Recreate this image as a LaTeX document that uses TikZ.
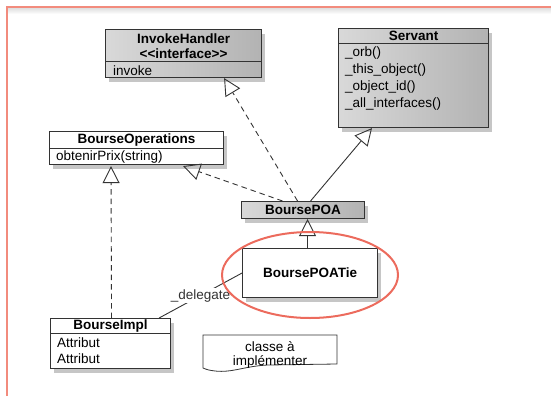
\documentclass[tikz,border=0pt]{standalone}
\usepackage{fontspec}
\setmainfont{Liberation Sans}
\usetikzlibrary{arrows.meta, positioning, calc, shadows}
\definecolor{framered}{HTML}{F28B7D}
\definecolor{ringred}{HTML}{EC6B5D}
\definecolor{linegray}{HTML}{333333}

\begin{document}
\begin{tikzpicture}[x=1pt, y=-1pt,
    classbox/.style={draw=linegray, line width=1.1pt, anchor=north west, inner sep=0pt,
      drop shadow={shadow xshift=3pt, shadow yshift=-4pt, opacity=0.45}},
    graybox/.style={classbox, left color=gray!30, middle color=gray!10, right color=gray!60},
    whitebox/.style={classbox, fill=white},
    ctitle/.style={font=\fontsize{13.5}{15}\selectfont\bfseries, inner sep=0pt},
    cmember/.style={font=\fontsize{13.5}{15}\selectfont, inner sep=0pt, anchor=west},
    realise/.style={draw=linegray, line width=0.9pt, dash pattern=on 5.5pt off 4pt,
      -{Triangle[open, length=17pt, width=17pt]}},
    inherit/.style={draw=linegray, line width=0.9pt, -{Triangle[open, length=17pt, width=17pt]}}]
  \useasboundingbox (0,0) rectangle (551,396);

  % page frame
  \shade[top color=gray!25, bottom color=white] (8,8) rectangle (551,14);
  \draw[framered, line width=1.5pt] (7,396) -- (7,7) -- (551,7);

  % InvokeHandler
  \node[graybox, minimum width=156pt, minimum height=48pt] (ih) at (105,29) {};
  \draw[linegray, line width=1pt] ($(ih.north west)+(0,33)$) -- ($(ih.north east)+(0,33)$);
  \node[ctitle] (ihT) at ($(ih.north)+(0,10)$) {InvokeHandler};
  \node[ctitle] (ihS) at ($(ih.north)+(0,25)$) {<{}<interface>{}>};
  \node[cmember] (ihM) at (113,71) {invoke};

  % Servant
  \node[graybox, minimum width=150pt, minimum height=99pt] (sv) at (338,28) {};
  \draw[linegray, line width=1pt] ($(sv.north west)+(0,16)$) -- ($(sv.north east)+(0,16)$);
  \node[ctitle] (svT) at ($(sv.north)+(0,8)$) {Servant};
  \foreach [count=\i] \m in {\_orb(), \_this\_object(), \_object\_id(), \_all\_interfaces()}
    \node[cmember] (sv\i) at (345, 36+17*\i) {\m};

  % BourseOperations
  \node[whitebox, minimum width=174pt, minimum height=33pt] (ops) at (49,131) {};
  \draw[linegray, line width=1pt] ($(ops.north west)+(0,17)$) -- ($(ops.north east)+(0,17)$);
  \node[ctitle] (opsT) at ($(ops.north)+(0,9)$) {BourseOperations};
  \node[cmember] (opsM) at (56,157) {obtenirPrix(string)};

  % BoursePOA / BoursePOATie
  \node[graybox, minimum width=123pt, minimum height=17pt, font=\fontsize{13.5}{15}\selectfont\bfseries] (poa) at (241,201) {BoursePOA};
  \node[whitebox, minimum width=135pt, minimum height=49pt, font=\fontsize{13.5}{15}\selectfont\bfseries] (tie) at (242,248) {BoursePOATie};

  % BourseImpl
  \node[whitebox, minimum width=120pt, minimum height=50pt] (impl) at (50,318) {};
  \draw[linegray, line width=1pt] ($(impl.north west)+(0,15)$) -- ($(impl.north east)+(0,15)$);
  \node[ctitle] (implT) at ($(impl.north)+(0,8)$) {BourseImpl};
  \node[cmember] (impl1) at (57,343) {Attribut};
  \node[cmember] (impl2) at (57,359) {Attribut};

  % note
  \draw[linegray, line width=0.8pt] (203,335) -- (337,335) -- (337,364) -- (268,365)
    .. controls (245,366) and (232,373) .. (215,371) .. controls (208,370) .. (203,368) -- cycle;
  \node[align=center, inner sep=0pt, font=\fontsize{13.5}{13.5}\selectfont] (note) at (270,355) {classe à\\implémenter};

  % relations
  \draw[realise] ([xshift=-5.5pt]poa.north) -- ([xshift=-38pt]ih.south east);
  \draw[realise] ([xshift=-20.5pt]poa.north) -- ([xshift=-41pt, yshift=-1pt]ops.south east);
  \draw[inherit] ([xshift=7.5pt]poa.north) -- ([xshift=34pt]sv.south west);
  \draw[inherit] ([xshift=-2.5pt]tie.north) -- ([xshift=4.5pt]poa.south);
  \draw[realise] ([xshift=1pt]impl.north) -- ([xshift=62pt, yshift=-1pt]ops.south west);
  \draw[linegray, line width=0.9pt] ([xshift=-12pt]impl.north east) -- node[fill=white, inner sep=1pt, font=\fontsize{13.5}{15}\selectfont] (dlg) {\_delegate} (tie.west);

  % highlight
  \draw[ringred, line width=2pt] (310,275) ellipse [x radius=88, y radius=43];
\end{tikzpicture}
\end{document}
